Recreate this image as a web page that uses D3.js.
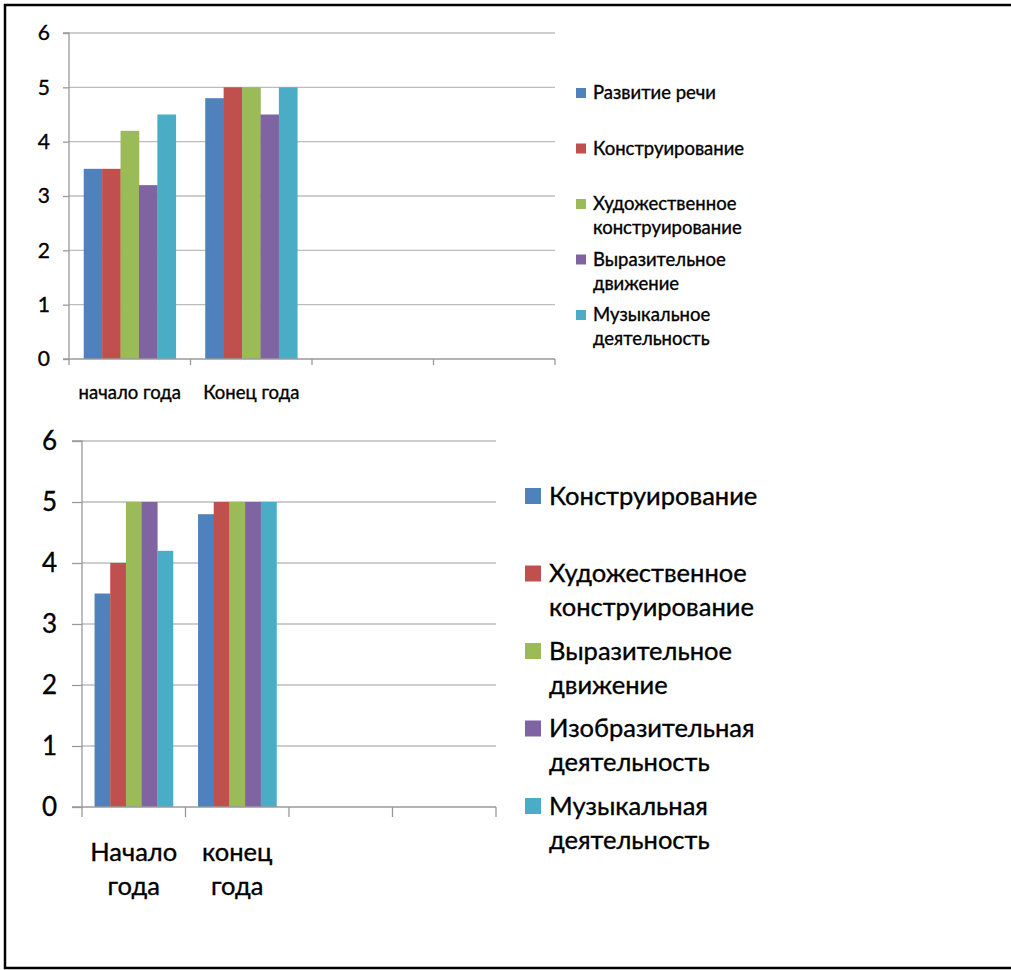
<!DOCTYPE html>
<html>
<head>
<meta charset="utf-8">
<script src="https://cdn.jsdelivr.net/npm/d3@7"></script>
<style>
  body { margin: 0; background: #fff; }
  svg text { font-family: Lato, "Open Sans", sans-serif; fill: #000; stroke: #000; stroke-width: 0.35px; }
</style>
</head>
<body>
<div id="chart"></div>
<script>
// top chart
var cats1 = ['начало года', 'Конец года', '', ''];
var series1 = ['Развитие речи', 'Конструирование', 'Художественное конструирование', 'Выразительное движение', 'Музыкальное деятельность'];
var legendLines1 = [['Развитие речи'], ['Конструирование'], ['Художественное', 'конструирование'], ['Выразительное', 'движение'], ['Музыкальное', 'деятельность']];
var start1 = [3.5, 3.5, 4.2, 3.2, 4.5];
var end1 = [4.8, 5, 5, 4.5, 5];

// bottom chart
var cats2 = [['Начало', 'года'], ['конец', 'года'], [''], ['']];
var series2 = ['Конструирование', 'Художественное конструирование', 'Выразительное движение', 'Изобразительная деятельность', 'Музыкальная деятельность'];
var legendLines2 = [['Конструирование'], ['Художественное', 'конструирование'], ['Выразительное', 'движение'], ['Изобразительная', 'деятельность'], ['Музыкальная', 'деятельность']];
var start2 = [3.5, 4, 5, 5, 4.2];
var end2 = [4.8, 5, 5, 5, 5];

var yTicks = [0, 1, 2, 3, 4, 5, 6];
var colors = ['#4F81BD', '#C0504D', '#9BBB59', '#8064A2', '#4BACC6'];

var svg = d3.select('#chart').append('svg')
	.attr('width', 1011)
	.attr('height', 970);

// frame (no right edge in the source)
svg.append('path')
	.attr('d', 'M1011,5 L5,5 L5,968 L1011,968')
	.attr('fill', 'none')
	.attr('stroke', '#000')
	.attr('stroke-width', 2.5);

function drawChart(o) {
	var g = svg.append('g');
	var x = d3.scaleBand().domain(d3.range(o.cats.length)).range([o.left, o.right]);
	var y = d3.scaleLinear().domain([0, 6]).range([o.bottom, o.top]);
	var x1 = d3.scaleBand().domain(d3.range(5))
		.range([0, x.bandwidth()]).paddingOuter(o.outerPad);

	// grid
	g.selectAll('.grid').data(yTicks.slice(1)).enter().append('line')
		.attr('x1', o.left).attr('x2', o.right)
		.attr('y1', function(d){ return y(d); })
		.attr('y2', function(d){ return y(d); })
		.attr('stroke', '#bcbcbc').attr('stroke-width', 1.3);

	// bars
	var data = [o.start, o.end];
	var grp = g.selectAll('.grp').data(data).enter().append('g')
		.attr('transform', function(d, i){ return 'translate(' + x(i) + ',0)'; });
	grp.selectAll('rect').data(function(d){ return d; }).enter().append('rect')
		.attr('x', function(d, i){ return x1(i); })
		.attr('width', x1.bandwidth() + 0.3)
		.attr('y', function(d){ return y(d); })
		.attr('height', function(d){ return y(0) - y(d); })
		.attr('fill', function(d, i){ return colors[i]; });

	// axes
	var yAxis = d3.axisLeft(y).tickValues(yTicks).tickFormat(d3.format('d'))
		.tickSize(o.tick).tickPadding(o.yPad);
	var ya = g.append('g').attr('transform', 'translate(' + o.left + ',0)').call(yAxis);
	ya.select('.domain').attr('stroke', '#9a9a9a').attr('stroke-width', 1.3)
		.attr('d', 'M' + (-o.tick) + ',' + o.top + 'H0V' + o.bottom + 'H' + (-o.tick));
	ya.selectAll('.tick line').attr('stroke', '#9a9a9a').attr('stroke-width', 1.3);
	ya.selectAll('text').style('font-size', o.yFont + 'px').attr('fill', '#000');

	var xa = g.append('g').attr('transform', 'translate(0,' + o.bottom + ')')
		.call(d3.axisBottom(x).tickSize(0).tickFormat(''));
	xa.select('.domain').attr('stroke', '#9a9a9a').attr('stroke-width', 1.3)
		.attr('d', 'M' + o.left + ',0H' + o.right);
	// tick marks between categories
	xa.selectAll('.sep').data(d3.range(o.cats.length + 1)).enter().append('line')
		.attr('x1', function(d){ return o.left + d * x.step(); })
		.attr('x2', function(d){ return o.left + d * x.step(); })
		.attr('y1', 0).attr('y2', o.tick)
		.attr('stroke', '#9a9a9a').attr('stroke-width', 1.3);

	// category labels
	var lab = g.selectAll('.cat').data(o.cats).enter().append('text')
		.attr('text-anchor', 'middle')
		.style('font-size', o.xFont + 'px')
		.attr('x', function(d, i){ return x(i) + x.bandwidth() / 2; })
		.attr('y', o.catY);
	lab.selectAll('tspan').data(function(d){ return Array.isArray(d) ? d : [d]; })
		.enter().append('tspan')
		.attr('x', function(){ return d3.select(this.parentNode).attr('x'); })
		.attr('dy', function(d, i){ return i === 0 ? 0 : o.catLine; })
		.text(function(d){ return d; });

	// legend
	var leg = g.selectAll('.legend').data(o.legend).enter().append('g')
		.attr('transform', function(d, i){ return 'translate(' + o.legX + ',' + (o.legY + i * o.legStep) + ')'; });
	leg.append('rect')
		.attr('x', 0).attr('y', -o.sq / 2)
		.attr('width', o.sq).attr('height', o.sq)
		.attr('fill', function(d, i){ return colors[i]; });
	var lt = leg.append('text')
		.attr('x', o.sq + o.legGap)
		.attr('y', 0)
		.style('font-size', o.legFont + 'px');
	lt.selectAll('tspan').data(function(d){ return d; }).enter().append('tspan')
		.attr('x', o.sq + o.legGap)
		.attr('y', function(d, i){ return i * o.legLine; })
		.attr('dy', '.35em')
		.text(function(d){ return d; });
}

drawChart({
	cats: cats1, start: start1, end: end1, legend: legendLines1,
	left: 69, right: 555, top: 33, bottom: 359,
	outerPad: 0.8, tick: 6, yPad: 13, yFont: 21,
	xFont: 18.5, catY: 399, catLine: 22,
	legX: 576, legY: 93, legStep: 55.5, sq: 10, legGap: 7, legFont: 18.5, legLine: 24
});

drawChart({
	cats: cats2, start: start2, end: end2, legend: legendLines2,
	left: 82, right: 496, top: 441, bottom: 807,
	outerPad: 0.8, tick: 10, yPad: 15, yFont: 26,
	xFont: 25.5, catY: 861, catLine: 34,
	legX: 525, legY: 496, legStep: 77.5, sq: 16, legGap: 8, legFont: 25.5, legLine: 34
});
</script>
</body>
</html>
